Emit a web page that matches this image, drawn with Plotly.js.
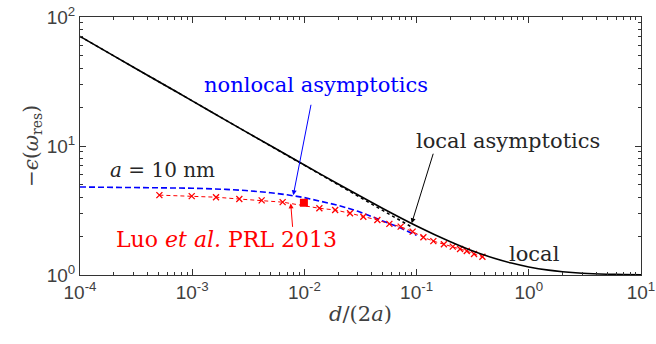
<!DOCTYPE html>
<html>
<head>
<meta charset="utf-8">
<script src="https://cdn.plot.ly/plotly-3.0.1.min.js"></script>
<style>html,body{margin:0;padding:0;background:#fff;}#chart{width:656px;height:344px;}</style>
</head>
<body>
<div id="chart"></div>
<script>
// local resonance condition
const localX = [1e-4, 2e-4, 5e-4, 1e-3, 2e-3, 5e-3, 1e-2, 0.02, 0.05, 0.1, 0.2, 0.3, 0.5, 0.7, 1, 1.5, 2, 3, 5, 7, 10];
const localY = [70.7, 50.0, 31.6, 22.4, 15.8, 10.04, 7.12, 5.08, 3.28, 2.40, 1.81, 1.565, 1.342, 1.237, 1.155, 1.091, 1.061, 1.033, 1.014, 1.008, 1.004];
// local asymptotics (dotted)
const locAsymX = [1e-4, 1e-3, 1e-2, 0.02, 0.03, 0.05, 0.07, 0.09];
const locAsymY = [70.7, 22.4, 7.07, 5.0, 4.08, 3.16, 2.67, 2.36];
// nonlocal asymptotics (blue dashed)
const nonlocX = [1e-4, 1e-3, 2e-3, 3e-3, 5e-3, 7e-3, 1e-2, 0.015, 0.02, 0.03, 0.05, 0.07, 0.1];
const nonlocY = [4.81, 4.71, 4.61, 4.52, 4.34, 4.19, 3.98, 3.70, 3.47, 3.12, 2.64, 2.34, 2.03];
// Luo et al. PRL 2013 (red crosses)
const luoX = [5.1e-4, 9.9e-4, 1.63e-3, 2.63e-3, 4.16e-3, 6.4e-3, 0.0136, 0.0188, 0.0255, 0.0335, 0.0447, 0.0572, 0.0721, 0.0922, 0.115, 0.141, 0.175, 0.210, 0.244, 0.280, 0.325, 0.386];
const luoY = [4.16, 4.09, 4.01, 3.88, 3.79, 3.67, 3.29, 3.19, 3.01, 2.83, 2.67, 2.49, 2.37, 2.17, 1.96, 1.83, 1.73, 1.66, 1.59, 1.535, 1.455, 1.387];
// a = 10 nm point
const ptX = [0.0099];
const ptY = [3.63];
// tick labels
const xTickVals = [1e-4, 1e-3, 1e-2, 1e-1, 1, 10];
const xTickText = ['10<sup>-4</sup>', '10<sup>-3</sup>', '10<sup>-2</sup>', '10<sup>-1</sup>', '10<sup>0</sup>', '10<sup>1</sup>'];
const yTickVals = [1, 10, 100];
const yTickText = ['10<sup>0</sup>', '10<sup>1</sup>', '10<sup>2</sup>'];

const serif = "DejaVu Serif";
const sans = "Liberation Sans";
const grey = '#404040';

const traces = [
  {x: locAsymX, y: locAsymY, mode: 'lines', line: {color: '#000', width: 1.5, dash: 'dot'}, hoverinfo: 'skip'},
  {x: nonlocX, y: nonlocY, mode: 'lines', line: {color: '#0000ff', width: 1.6, dash: '6px,3px'}},
  {x: luoX, y: luoY, mode: 'lines+markers', line: {color: '#ff0000', width: 1, dash: '4px,3px'},
   marker: {symbol: 'x-thin', size: 6, line: {color: '#ff0000', width: 1.3}}},
  {x: localX, y: localY, mode: 'lines', line: {color: '#000', width: 1.6, shape: 'spline', smoothing: 0.6}},
  {x: ptX, y: ptY, mode: 'markers', marker: {symbol: 'square', size: 8, color: '#ff0000'}}
];

const axBase = {
  type: 'log', showgrid: false, zeroline: false,
  showline: true, linecolor: '#333', linewidth: 1, mirror: 'allticks',
  ticks: 'inside', ticklen: 6, tickcolor: '#333', tickwidth: 1,
  tickmode: 'array',
  tickfont: {family: sans, size: 19, color: grey},
  minor: {ticks: 'inside', ticklen: 3, tickcolor: '#333', tickwidth: 1, dtick: 'D1', showgrid: false}
};

function label(px, py, text, size, color) {
  return {xref: 'paper', yref: 'paper', x: (px - 80) / 561, y: 1 - (py - 17) / 258,
    xanchor: 'center', yanchor: 'middle', text: text, showarrow: false,
    font: {family: serif, size: size, color: color}};
}

const layout = {
  width: 656, height: 344,
  margin: {l: 80, r: 15, t: 17, b: 69},
  paper_bgcolor: '#fff', plot_bgcolor: '#fff',
  showlegend: false,
  font: {family: sans},
  xaxis: Object.assign({}, axBase, {range: [-4, 1], tickvals: xTickVals, ticktext: xTickText,
    title: {text: '<i>d</i>/(2<i>a</i>)', font: {family: serif, size: 21, color: grey}, standoff: 4}}),
  yaxis: Object.assign({}, axBase, {range: [0, 2], tickvals: yTickVals, ticktext: yTickText,
    title: {text: '−<i>ϵ</i>(<i>ω</i><sub>res</sub>)', font: {family: serif, size: 20, color: grey}, standoff: 2}}),
  annotations: [
    {xref: 'x', yref: 'y', x: Math.log10(0.00796), y: Math.log10(4.15), ax: 18, ay: -92, text: '',
     showarrow: true, arrowhead: 2, arrowsize: 1, arrowwidth: 1, arrowcolor: '#0000ff', standoff: 0},
    {xref: 'x', yref: 'y', x: Math.log10(0.0904), y: Math.log10(2.52), ax: 22, ay: -71, text: '',
     showarrow: true, arrowhead: 2, arrowsize: 1, arrowwidth: 1, arrowcolor: '#000', standoff: 0},
    {xref: 'x', yref: 'y', x: Math.log10(0.00755), y: Math.log10(3.59), ax: 2, ay: 25, text: '',
     showarrow: true, arrowhead: 2, arrowsize: 1, arrowwidth: 1, arrowcolor: '#ff0000', standoff: 0},
    label(316, 85, 'nonlocal asymptotics', 21, '#0000ff'),
    label(508, 141, 'local asymptotics', 21, '#262626'),
    label(162, 170, '<i>a</i> = 10 nm', 20, '#262626'),
    label(226, 239, 'Luo <i>et al.</i> PRL 2013', 22, '#ff0000'),
    label(534, 254, 'local', 21, '#262626')
  ]
};

Plotly.newPlot('chart', traces, layout, {staticPlot: true, displayModeBar: false});
</script>
</body>
</html>
